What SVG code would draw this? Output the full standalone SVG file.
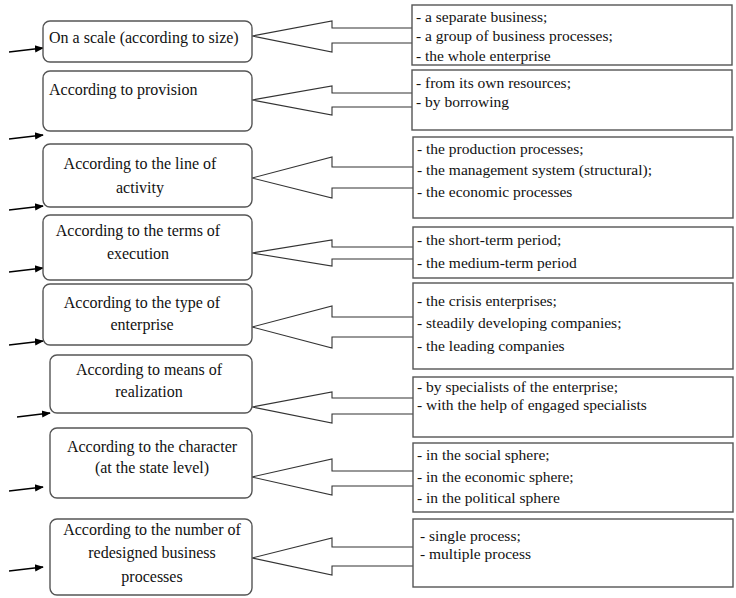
<svg xmlns="http://www.w3.org/2000/svg" width="736" height="598" viewBox="0 0 736 598">
<defs>
<style>
.box{fill:#fff;stroke:#555;stroke-width:1.4}
.rect{fill:#fff;stroke:#555;stroke-width:1.4}
.call{fill:#fff;stroke:#333;stroke-width:1.1}
.in{stroke:#000;stroke-width:1.3;fill:none}
text{font-family:'Liberation Serif','Times New Roman',serif;font-size:15.5px;fill:#111}
.l{font-size:16px}
.c{text-anchor:middle}
</style>
<marker id="ah" viewBox="0 0 10 10" refX="9" refY="5" markerWidth="9" markerHeight="9" markerUnits="userSpaceOnUse" orient="auto">
<path d="M0,1 L10,5 L0,9 z" fill="#000"/>
</marker>
</defs>

<g id="connectors">
<line class="in" x1="9" y1="52" x2="43" y2="48" marker-end="url(#ah)"/>
<line class="in" x1="9" y1="139" x2="43" y2="135" marker-end="url(#ah)"/>
<line class="in" x1="9" y1="210" x2="43" y2="206" marker-end="url(#ah)"/>
<line class="in" x1="9" y1="272" x2="43" y2="268" marker-end="url(#ah)"/>
<line class="in" x1="9" y1="345" x2="43" y2="341" marker-end="url(#ah)"/>
<line class="in" x1="17" y1="417" x2="50" y2="413" marker-end="url(#ah)"/>
<line class="in" x1="9" y1="491" x2="43" y2="487" marker-end="url(#ah)"/>
<line class="in" x1="9" y1="571" x2="43" y2="567" marker-end="url(#ah)"/>

<polyline class="call" points="412,28 332,28 332,21 252,36 332,52 332,43 412,43"/>
<polyline class="call" points="412,93 332,93 332,86 252,100 332,115 332,107 412,107"/>
<polyline class="call" points="413,167 332,167 332,157 252,178 332,198 332,188 413,188"/>
<polyline class="call" points="413,247 332,247 332,240 252,253 332,266 332,259 413,259"/>
<polyline class="call" points="413,317 332,317 332,306 252,327 332,348 332,337 413,337"/>
<polyline class="call" points="413,398 332,398 332,392 252,407 332,423 332,414 413,414"/>
<polyline class="call" points="413,471 332,471 332,459 252,477 332,495 332,486 413,486"/>
<polyline class="call" points="413,547 332,547 332,538 252,558 332,575 332,566 413,566"/>
</g>

<g id="n1">
<rect class="box" x="43" y="21" width="209" height="41" rx="7"/>
<text class="l" x="49" y="43">On a scale (according to size)</text>
</g>
<g id="n2">
<rect class="box" x="43" y="71" width="209" height="60" rx="7"/>
<text class="l" x="49" y="95">According to provision</text>
</g>
<g id="n3">
<rect class="box" x="43" y="144" width="209" height="63" rx="7"/>
<text class="l c" x="140" y="169">According to the line of</text>
<text class="l c" x="140" y="193">activity</text>
</g>
<g id="n4">
<rect class="box" x="43" y="215" width="209" height="65" rx="7"/>
<text class="l c" x="138" y="236">According to the terms of</text>
<text class="l c" x="138" y="259">execution</text>
</g>
<g id="n5">
<rect class="box" x="43" y="284" width="209" height="61" rx="7"/>
<text class="l c" x="142" y="308">According to the type of</text>
<text class="l c" x="142" y="330">enterprise</text>
</g>
<g id="n6">
<rect class="box" x="50" y="355" width="202" height="58" rx="7"/>
<text class="l c" x="149" y="375">According to means of</text>
<text class="l c" x="149" y="397">realization</text>
</g>
<g id="n7">
<rect class="box" x="50" y="428" width="202" height="70" rx="7"/>
<text class="l c" x="152" y="452">According to the character</text>
<text class="l c" x="152" y="473">(at the state level)</text>
</g>
<g id="n8">
<rect class="box" x="50" y="519" width="202" height="76" rx="7"/>
<text class="l c" x="152" y="535">According to the number of</text>
<text class="l c" x="152" y="558">redesigned business</text>
<text class="l c" x="152" y="582">processes</text>
</g>

<g id="r1">
<rect class="rect" x="412" y="5" width="320" height="60"/>
<text x="416" y="22">- a separate business;</text>
<text x="416" y="41">- a group of business processes;</text>
<text x="416" y="61">- the whole enterprise</text>
</g>
<g id="r2">
<rect class="rect" x="412" y="70" width="320" height="60"/>
<text x="416" y="88">- from its own resources;</text>
<text x="416" y="107">- by borrowing</text>
</g>
<g id="r3">
<rect class="rect" x="413" y="137" width="320" height="81"/>
<text x="417" y="154">- the production processes;</text>
<text x="417" y="175">- the management system (structural);</text>
<text x="417" y="197">- the economic processes</text>
</g>
<g id="r4">
<rect class="rect" x="413" y="227" width="320" height="51"/>
<text x="417" y="245">- the short-term period;</text>
<text x="417" y="268">- the medium-term period</text>
</g>
<g id="r5">
<rect class="rect" x="413" y="283" width="320" height="86"/>
<text x="417" y="306">- the crisis enterprises;</text>
<text x="417" y="328">- steadily developing companies;</text>
<text x="417" y="351">- the leading companies</text>
</g>
<g id="r6">
<rect class="rect" x="413" y="377" width="320" height="60"/>
<text x="417" y="392">- by specialists of the enterprise;</text>
<text x="417" y="410">- with the help of engaged specialists</text>
</g>
<g id="r7">
<rect class="rect" x="413" y="443" width="320" height="69"/>
<text x="417" y="460">- in the social sphere;</text>
<text x="417" y="482">- in the economic sphere;</text>
<text x="417" y="503">- in the political sphere</text>
</g>
<g id="r8">
<rect class="rect" x="413" y="519" width="320" height="68"/>
<text x="420" y="541">- single process;</text>
<text x="420" y="559">- multiple process</text>
</g>
</svg>
